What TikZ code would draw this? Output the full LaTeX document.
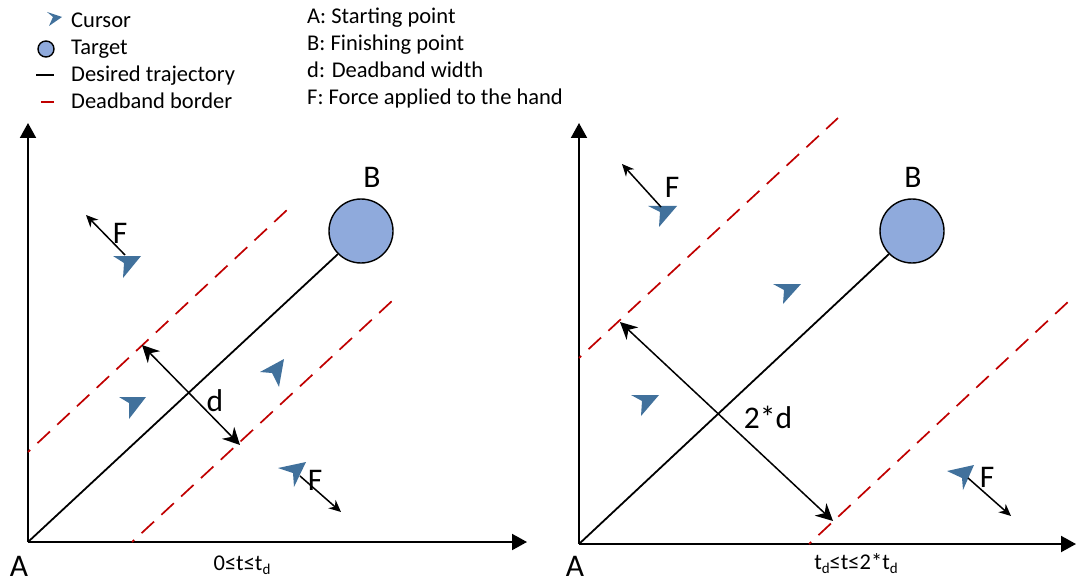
\documentclass[tikz,border=0pt]{standalone}
\usepackage{fontspec}
\setmainfont{Carlito}
\usetikzlibrary{arrows.meta}
\definecolor{borderred}{HTML}{C00000}
\definecolor{cursorblue}{HTML}{41719C}
\definecolor{targetblue}{HTML}{8FAADC}
\tikzset{
  axisline/.style={draw=black,line width=2pt,-{Triangle[length=15pt,width=16pt]}},
  traj/.style={draw=black,line width=1.8pt},
  border/.style={draw=borderred,line width=1.7pt,dash pattern=on 17pt off 10pt,dash phase=14pt},
  force/.style={draw=black,line width=1.5pt,-{Stealth[length=12pt,width=11pt]}},
  widtharrow/.style={draw=black,line width=1.5pt,{Stealth[length=17pt,width=17pt]}-{Stealth[length=17pt,width=17pt]}},
  cursorshape/.style={fill=cursorblue,draw=none},
  target/.style={circle,draw=black,line width=1.4pt,fill=targetblue,inner sep=0pt},
  legendtext/.style={anchor=base west,inner sep=0pt,font=\fontsize{22.5}{24}\selectfont},
  lab/.style={inner sep=0pt,font=\fontsize{31.5}{34}\selectfont},
  captext/.style={anchor=base,inner sep=0pt,font=\fontsize{22.5}{24}\selectfont}
}
\newcommand{\subd}{\raisebox{-0.2em}{\fontsize{15}{16}\selectfont d}}
\begin{document}
\begin{tikzpicture}[x=1pt,y=-1pt]
\useasboundingbox (0,0) rectangle (1076,580);
% legend
\fill[cursorshape] (47,12) -- (62,17) -- (49,26) -- (53,17) -- cycle;
\node[legendtext] (lc) at (71,28) {Cursor};
\node[target,minimum size=16pt] (lt) at (46,49) {};
\node[legendtext] (ltt) at (71,55) {Target};
\coordinate (ld1) at (36,75); \coordinate (ld2) at (54,75);
\draw[traj] (ld1) -- (ld2);
\node[legendtext] (ldt) at (71,82) {Desired trajectory};
\coordinate (lb1) at (41,102); \coordinate (lb2) at (54,102);
\draw[draw=borderred,line width=1.7pt] (lb1) -- (lb2);
\node[legendtext] (lbt) at (71,109) {Deadband border};
\node[legendtext] (k1) at (307,24) {A: Starting point};
\node[legendtext] (k2) at (307,51) {B: Finishing point};
\node[legendtext] (k3) at (307,78) {d: Deadband width};
\node[legendtext] (k4) at (307,105) {F: Force applied to the hand};
% left panel
\coordinate (A1) at (28,542);
\coordinate (Y1) at (28,123);
\coordinate (X1) at (527,542);
\draw[axisline] (A1) -- (Y1);
\draw[axisline] (A1) -- (X1);
\node[target,minimum size=64pt] (T1) at (361,231) {};
\draw[traj] (A1) -- (T1.225);
\coordinate (u1a) at (28,452); \coordinate (u1b) at (287,210);
\coordinate (l1a) at (132,542); \coordinate (l1b) at (392,301);
\draw[border] (u1a) -- (u1b);
\draw[border] (l1a) -- (l1b);
\coordinate (d1a) at (142,345); \coordinate (d1b) at (240,445);
\draw[widtharrow] (d1a) -- (d1b);
\fill[cursorshape] (113,256) -- (141,256) -- (123,278) -- (124,263) -- cycle;
\fill[cursorshape] (119,397) -- (146,397) -- (129,419) -- (129,403) -- cycle;
\fill[cursorshape] (260,372) -- (284,359) -- (279,387) -- (272,373) -- cycle;
\fill[cursorshape] (278,468) -- (306,462) -- (294,487) -- (293,473) -- cycle;
\coordinate (f1a) at (125,255); \coordinate (f1b) at (86,215);
\draw[force] (f1a) -- (f1b);
\coordinate (f2a) at (300,476); \coordinate (f2b) at (341,512);
\draw[force] (f2a) -- (f2b);
\node[lab] (F1) at (120,233) {F};
\node[lab] (F2) at (315,480) {F};
\node[lab] (B1) at (372,177) {B};
\node[lab] (A1t) at (19,566) {A};
\node[lab] (d1t) at (215,401) {d};
\node[captext] (c1) at (242,570) {0≤t≤t\subd};
% right panel
\coordinate (A2) at (579,544);
\coordinate (Y2) at (579,123);
\coordinate (X2) at (1076,544);
\draw[axisline] (A2) -- (Y2);
\draw[axisline] (A2) -- (X2);
\node[target,minimum size=64pt] (T2) at (912,231) {};
\draw[traj] (A2) -- (T2.225);
\coordinate (u2a) at (579,358); \coordinate (u2b) at (838,118);
\coordinate (l2a) at (809,544); \coordinate (l2b) at (1069,301);
\draw[border] (u2a) -- (u2b);
\draw[border] (l2a) -- (l2b);
\coordinate (d2a) at (620,322); \coordinate (d2b) at (833,521);
\draw[widtharrow] (d2a) -- (d2b);
\fill[cursorshape] (648,206) -- (677,206) -- (659,227) -- (660,212) -- cycle;
\fill[cursorshape] (773,284) -- (801,284) -- (783,304) -- (784,290) -- cycle;
\fill[cursorshape] (631,395) -- (659,395) -- (641,416) -- (642,401) -- cycle;
\fill[cursorshape] (947,471) -- (974,465) -- (963,490) -- (962,478) -- cycle;
\coordinate (f3a) at (661,207); \coordinate (f3b) at (622,164);
\draw[force] (f3a) -- (f3b);
\coordinate (f4a) at (968,478); \coordinate (f4b) at (1011,516);
\draw[force] (f4a) -- (f4b);
\node[lab] (F3) at (672,187) {F};
\node[lab] (F4) at (987,477) {F};
\node[lab] (B2) at (913,177) {B};
\node[lab] (A2t) at (575,566) {A};
\node[lab] (d2t) at (768,417) {2*d};
\node[captext] (c2) at (856,569) {t\subd≤t≤2*t\subd};
\end{tikzpicture}
\end{document}
